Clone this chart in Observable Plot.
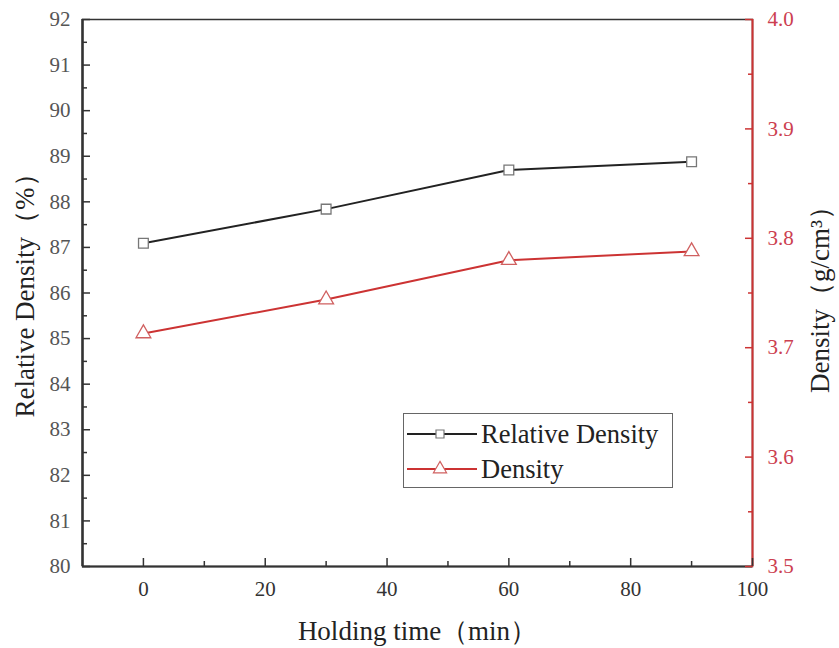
<!DOCTYPE html>
<html><head><meta charset="utf-8">
<script src="https://cdn.jsdelivr.net/npm/d3@7"></script>
<script src="https://cdn.jsdelivr.net/npm/@observablehq/plot@0.6"></script>
<style>
body{margin:0;background:#fff}
#wrap{position:relative;width:839px;height:648px;font-family:"Liberation Serif",serif}
#wrap svg text{font-family:"Liberation Serif",serif}
#legend{position:absolute;left:403px;top:413px;width:270px;height:75px;border:1px solid #666;background:#fff;box-sizing:border-box}
</style></head><body><div id="wrap"></div>
<script>
const holdingTime = [0, 30, 60, 90];
const relativeDensity = [87.09, 87.84, 88.70, 88.88];
const density = [3.713, 3.744, 3.780, 3.788];
const xTicks = [0, 20, 40, 60, 80, 100];
const xMinorTicks = [10, 30, 50, 70, 90];
const leftTicks = [80, 81, 82, 83, 84, 85, 86, 87, 88, 89, 90, 91, 92];
const leftMinorTicks = [80.5, 81.5, 82.5, 83.5, 84.5, 85.5, 86.5, 87.5, 88.5, 89.5, 90.5, 91.5];
const rightTicks = [3.5, 3.6, 3.7, 3.8, 3.9, 4.0];
const rightMinorTicks = [3.55, 3.65, 3.75, 3.85, 3.95];
const seriesNames = ["Relative Density", "Density"];
const xLabel = "Holding time（min）";
const yLeftLabel = "Relative Density（%）";
const yRightLabel = "Density（g/cm³）";

const FONT = "Liberation Serif";
const black = "#222", red = "#cc3333", redText = "#cc4050";
const leftDomain = [80, 92], rightDomain = [3.5, 4.0];
const toLeft = d => leftDomain[0] + (d - rightDomain[0]) * (leftDomain[1] - leftDomain[0]) / (rightDomain[1] - rightDomain[0]);
const fromLeft = v => rightDomain[0] + (v - leftDomain[0]) * (rightDomain[1] - rightDomain[0]) / (leftDomain[1] - leftDomain[0]);

const rel = holdingTime.map((t, i) => ({t, v: relativeDensity[i]}));
const den = holdingTime.map((t, i) => ({t, v: toLeft(density[i])}));

const chart = Plot.plot({
  width: 839, height: 648,
  marginLeft: 82, marginRight: 87, marginTop: 19, marginBottom: 82,
  style: {fontFamily: FONT, fontSize: "20px", background: "#fff"},
  x: {domain: [-10, 100]},
  y: {domain: leftDomain},
  marks: [
    Plot.frame({stroke: "#333", strokeWidth: 1.5}),
    Plot.ruleX([-10], {stroke: "#333", strokeWidth: 2.5}),
    Plot.ruleX([100], {stroke: red, strokeWidth: 2}),
    Plot.ruleY([80], {stroke: "#333", strokeWidth: 2}),
    // bottom axis
    Plot.axisX({anchor: "bottom", ticks: xTicks, tickSize: -8, tickPadding: 23, tickFormat: d => String(d), label: null, fontFamily: FONT, fontSize: 21, fill: "#333", stroke: "#333", strokeWidth: 1.5}),
    Plot.axisX({anchor: "bottom", ticks: xMinorTicks, tickSize: -5, label: null, fill: "none", stroke: "#333", strokeWidth: 1.5}),
    // left axis
    Plot.axisY({anchor: "left", ticks: leftTicks, tickSize: -8, tickPadding: 20, tickFormat: d => String(d), label: null, fontFamily: FONT, fontSize: 21, fill: "#555", stroke: "#333", strokeWidth: 1.5}),
    Plot.axisY({anchor: "left", ticks: leftMinorTicks, tickSize: -5, label: null, fill: "none", stroke: "#333", strokeWidth: 1.5}),
    // right axis
    Plot.axisY({anchor: "right", ticks: rightTicks.map(toLeft), tickSize: -8, tickPadding: 23, tickFormat: v => fromLeft(v).toFixed(1), label: null, fontFamily: FONT, fontSize: 21, fill: redText, stroke: red, strokeWidth: 1.5}),
    Plot.axisY({anchor: "right", ticks: rightMinorTicks.map(toLeft), tickSize: -5, label: null, fill: "none", stroke: red, strokeWidth: 1.5}),
    // axis titles
    Plot.text([xLabel], {frameAnchor: "bottom", textAnchor: "middle", lineAnchor: "bottom", dy: 73, fontSize: 27, fontFamily: FONT, fill: "#222"}),
    Plot.text([yLeftLabel], {frameAnchor: "left", textAnchor: "middle", lineAnchor: "middle", rotate: -90, dx: -57, dy: -4, fontSize: 27, fontFamily: FONT, fill: "#222"}),
    Plot.text([yRightLabel], {frameAnchor: "right", textAnchor: "middle", lineAnchor: "middle", rotate: -90, dx: 68, fontSize: 27, fontFamily: FONT, fill: "#222"}),
    // data
    Plot.line(rel, {x: "t", y: "v", stroke: black, strokeWidth: 2}),
    Plot.dot(rel, {x: "t", y: "v", symbol: "square", r: 5.5, fill: "#fff", stroke: "#777", strokeWidth: 1.3}),
    Plot.line(den, {x: "t", y: "v", stroke: red, strokeWidth: 2}),
    Plot.dot(den, {x: "t", y: "v", symbol: "triangle", r: 5.5, fill: "#fff", stroke: "#d06060", strokeWidth: 1.3})
  ]
});
const wrap = document.getElementById("wrap");
wrap.appendChild(chart);

// legend
const leg = document.createElement("div");
leg.id = "legend";
const colors = [black, red];
const mstroke = ["#777", "#d06060"];
const symbols = [d3.symbolSquare, d3.symbolTriangle];
let svg = `<svg width="268" height="73" xmlns="http://www.w3.org/2000/svg">`;
seriesNames.forEach((name, i) => {
  const y = 20 + i * 35;
  const path = d3.symbol(symbols[i], i === 0 ? 64 : 75)();
  svg += `<line x1="3" x2="73" y1="${y}" y2="${y}" stroke="${colors[i]}" stroke-width="2"/>`;
  svg += `<path d="${path}" transform="translate(36,${y})" fill="#fff" stroke="${mstroke[i]}" stroke-width="1.2"/>`;
  svg += `<text x="77" y="${y}" dy="0.33em" font-family="${FONT}" font-size="26.5" fill="#222">${name}</text>`;
});
svg += `</svg>`;
leg.innerHTML = svg;
wrap.appendChild(leg);
</script>
</body></html>
